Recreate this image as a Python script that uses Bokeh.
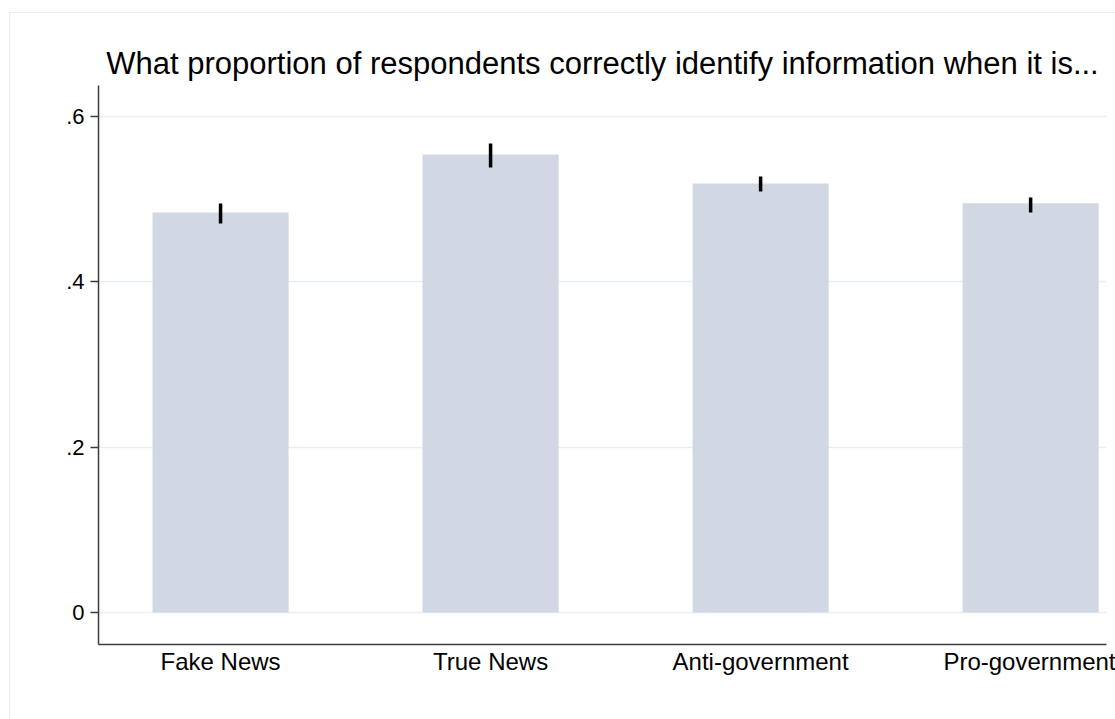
from bokeh.plotting import figure
from bokeh.models import FixedTicker, Range1d, ColumnDataSource
from bokeh.embed import file_html
from bokeh.resources import INLINE

# ---- data ----
categories = ["Fake News", "True News", "Anti-government", "Pro-government"]
proportion = [0.484, 0.554, 0.519, 0.495]
ci_low = [0.4706, 0.5383, 0.5093, 0.4839]
ci_high = [0.4948, 0.5673, 0.5274, 0.5020]
y_ticks = [0.0, 0.2, 0.4, 0.6]
y_tick_labels = ["0", ".2", ".4", ".6"]
title_text = "What proportion of respondents correctly identify information when it is..."

xpos = list(range(len(categories)))
src = ColumnDataSource(dict(x=xpos, top=proportion, lo=ci_low, hi=ci_high))

FONT = "Liberation Sans"

p = figure(
    frame_width=1008, frame_height=559,
    min_border_left=88, min_border_right=9, min_border_top=72, min_border_bottom=75,
    x_range=Range1d(-0.452, 3.281), y_range=Range1d(-0.0387, 0.6375),
    output_backend="svg", toolbar_location=None, tools="",
    title=title_text,
)
p.styles = {"border": "1px solid #e9eff1", "margin-left": "9px", "margin-top": "12px"}
p.outline_line_color = None
p.background_fill_color = "white"
p.border_fill_color = "white"

p.title.text_font = FONT
p.title.text_font_size = "31px"
p.title.text_font_style = "normal"
p.title.align = "center"
p.title.text_color = "black"
p.title.standoff = 10

p.vbar(x="x", top="top", bottom=0, width=0.504, source=src,
       fill_color="#d1d8e3", line_color=None)
p.segment(x0="x", y0="lo", x1="x", y1="hi", source=src,
          line_color="black", line_width=3.5)

# y axis
p.yaxis.ticker = FixedTicker(ticks=y_ticks)
p.yaxis.major_label_overrides = {t: l for t, l in zip(y_ticks, y_tick_labels)}
p.yaxis.major_label_orientation = "horizontal"
p.yaxis.minor_tick_line_color = None
p.yaxis.major_tick_out = 8
p.yaxis.major_tick_in = 0
p.yaxis.major_label_standoff = 6
p.yaxis.axis_line_color = "#3c3c3c"
p.yaxis.axis_line_width = 1.5
p.yaxis.major_tick_line_color = "#3c3c3c"
p.yaxis.major_tick_line_width = 1.5
p.yaxis.major_label_text_font = FONT
p.yaxis.major_label_text_font_size = "22px"
p.yaxis.major_label_text_color = "black"

# x axis
p.xaxis.ticker = FixedTicker(ticks=xpos)
p.xaxis.major_label_overrides = {i: c for i, c in zip(xpos, categories)}
p.xaxis.major_tick_out = 0
p.xaxis.major_tick_in = 0
p.xaxis.minor_tick_line_color = None
p.xaxis.major_tick_line_color = None
p.xaxis.major_label_standoff = 3
p.xaxis.axis_line_color = "#3c3c3c"
p.xaxis.axis_line_width = 1.5
p.xaxis.major_label_text_font = FONT
p.xaxis.major_label_text_font_size = "24px"
p.xaxis.major_label_text_color = "black"

p.xgrid.grid_line_color = None
p.ygrid.grid_line_color = "#e8eef2"
p.ygrid.grid_line_width = 1.5

open("out.html", "w").write(file_html(p, INLINE))
